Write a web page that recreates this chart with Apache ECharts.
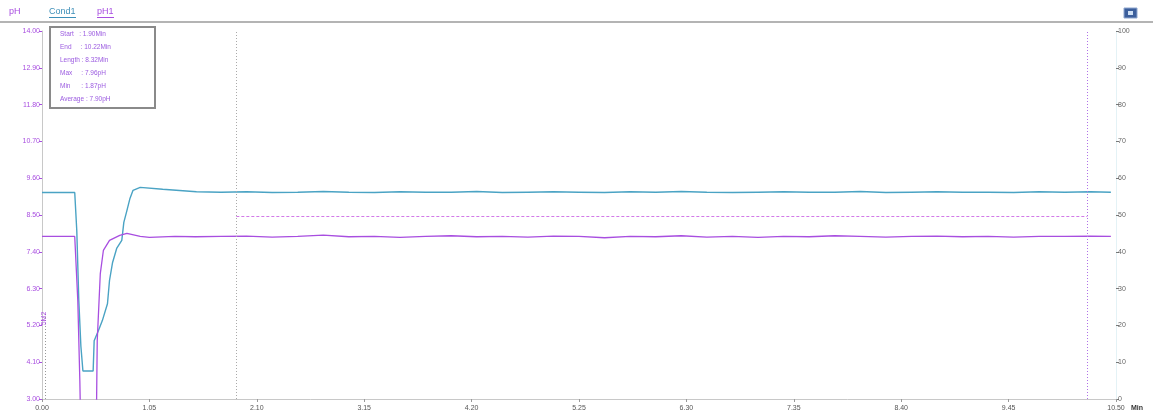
<!DOCTYPE html>
<html>
<head>
<meta charset="utf-8">
<script src="https://cdn.jsdelivr.net/npm/echarts@6/dist/echarts.min.js"></script>
<style>
  html, body { margin: 0; padding: 0; background: #ffffff; }
  #chart { width: 1153px; height: 415px; }
</style>
</head>
<body>
<div id="chart"></div>
<script>
// Time axis (minutes) and its tick labels
const timeTicks = [0, 1.05, 2.10, 3.15, 4.20, 5.25, 6.30, 7.35, 8.40, 9.45, 10.50];
// Left axis (pH) tick values
const phTicks = [3.00, 4.10, 5.20, 6.30, 7.40, 8.50, 9.60, 10.70, 11.80, 12.90, 14.00];
// Right axis (conductivity) tick values
const condTicks = [0, 10, 20, 30, 40, 50, 60, 70, 80, 90, 100];

// Cond1 trace
const cond1Time = [0, 0.32, 0.34, 0.36, 0.38, 0.40, 0.50, 0.51, 0.55, 0.59, 0.64, 0.66, 0.69, 0.73, 0.78, 0.80, 0.83, 0.86, 0.89, 0.96, 1.18, 1.51,
  1.75, 2.00, 2.25, 2.50, 2.75, 3.00, 3.25, 3.50, 3.75, 4.00, 4.25, 4.50, 4.75, 5.00, 5.25, 5.50, 5.75, 6.00, 6.25, 6.50, 6.75, 7.00, 7.25, 7.50, 7.75, 8.00, 8.25, 8.50, 8.75, 9.00, 9.25, 9.50, 9.75, 10.00, 10.25, 10.45];
const cond1Values = [56.1, 56.1, 45.8, 26.7, 14.4, 7.6, 7.6, 15.8, 18.5, 21.3, 25.9, 32.2, 37.1, 40.9, 43.1, 48.0, 51.2, 54.5, 56.7, 57.5, 57.0, 56.3,
  56.2, 56.3, 56.1, 56.2, 56.4, 56.2, 56.1, 56.3, 56.2, 56.2, 56.4, 56.1, 56.2, 56.3, 56.2, 56.1, 56.3, 56.2, 56.4, 56.2, 56.1, 56.2, 56.3, 56.2, 56.2, 56.4, 56.1, 56.2, 56.3, 56.2, 56.2, 56.1, 56.3, 56.2, 56.3, 56.2];

// pH1 trace
const ph1Time = [0, 0.32, 0.35, 0.37, 0.38, 0.53, 0.54, 0.57, 0.60, 0.66, 0.76, 0.83, 0.96, 1.05, 1.30, 1.50,
  1.75, 2.00, 2.25, 2.50, 2.75, 3.00, 3.25, 3.50, 3.75, 4.00, 4.25, 4.50, 4.75, 5.00, 5.25, 5.50, 5.75, 6.00, 6.25, 6.50, 6.75, 7.00, 7.25, 7.50, 7.75, 8.00, 8.25, 8.50, 8.75, 9.00, 9.25, 9.50, 9.75, 10.00, 10.25, 10.45];
const ph1Values = [7.86, 7.86, 5.94, 3.54, 1.87, 1.87, 4.74, 6.75, 7.44, 7.74, 7.89, 7.95, 7.86, 7.83, 7.86, 7.85,
  7.86, 7.87, 7.84, 7.86, 7.90, 7.85, 7.86, 7.83, 7.86, 7.88, 7.85, 7.86, 7.84, 7.87, 7.86, 7.82, 7.86, 7.85, 7.88, 7.84, 7.86, 7.83, 7.86, 7.85, 7.88, 7.86, 7.84, 7.86, 7.87, 7.85, 7.86, 7.84, 7.86, 7.86, 7.87, 7.86];

// Selected range and its statistics
const rangeStart = 1.90;
const rangeEnd = 10.22;
const rangeLevel = 8.46;
const eventTime = 0.03;
const eventTop = 5.55;
const statLines = ['Start   : 1.90Min', 'End     : 10.22Min', 'Length : 8.32Min', 'Max     : 7.96pH', 'Min      : 1.87pH', 'Average : 7.90pH'];

const PH_COLOR = '#a84ee0';
const COND_COLOR = '#4aa3c4';
const AXIS_GRAY = '#c8c8c8';
const FONT = 'Arial, "Liberation Sans", sans-serif';

const zip = (xs, ys) => xs.map((x, i) => [x, ys[i]]);

const chart = echarts.init(document.getElementById('chart'), null, { renderer: 'canvas' });

const option = {
  animation: false,
  backgroundColor: '#ffffff',
  grid: { left: 42, right: 37, top: 31, bottom: 16, containLabel: false },
  xAxis: {
    type: 'value', min: 0, max: 10.5, interval: 1.05,
    axisLine: { show: true, lineStyle: { color: AXIS_GRAY, width: 1 } },
    axisTick: { show: true, length: 3, lineStyle: { color: '#999' } },
    splitLine: { show: false },
    axisLabel: { color: '#555', fontSize: 7, fontFamily: FONT, margin: 6,
      formatter: v => v.toFixed(2) }
  },
  yAxis: [
    {
      type: 'value', min: 3, max: 14, position: 'left',
      axisLine: { show: true, lineStyle: { color: AXIS_GRAY, width: 1 } },
      axisTick: { show: true, length: 3, customValues: phTicks, lineStyle: { color: PH_COLOR } },
      splitLine: { show: false },
      axisLabel: { color: PH_COLOR, fontSize: 7, fontFamily: FONT, margin: 2,
        customValues: phTicks, formatter: v => v.toFixed(2) }
    },
    {
      type: 'value', min: 0, max: 100, interval: 10, position: 'right',
      axisLine: { show: true, lineStyle: { color: '#e4f2f6', width: 1 } },
      axisTick: { show: true, length: 3, lineStyle: { color: '#777' } },
      splitLine: { show: false },
      axisLabel: { color: '#666', fontSize: 7, fontFamily: FONT, margin: 2 }
    }
  ],
  series: [
    {
      name: 'Cond1', type: 'line', yAxisIndex: 1, symbol: 'none', clip: true,
      data: zip(cond1Time, cond1Values),
      lineStyle: { color: COND_COLOR, width: 1.4 },
      itemStyle: { color: COND_COLOR }
    },
    {
      name: 'pH1', type: 'line', yAxisIndex: 0, symbol: 'none', clip: true,
      data: zip(ph1Time, ph1Values),
      lineStyle: { color: PH_COLOR, width: 1.3 },
      itemStyle: { color: PH_COLOR },
      markLine: {
        silent: true, symbol: 'none', label: { show: false },
        data: [
          { xAxis: rangeStart, lineStyle: { color: '#aaaaaa', type: [1, 2], width: 1 } },
          { xAxis: rangeEnd, lineStyle: { color: '#b070e8', type: [1, 2], width: 1 } },
          [
            { coord: [rangeStart, rangeLevel], lineStyle: { color: '#d27ae8', type: [3, 2], width: 1 } },
            { coord: [rangeEnd, rangeLevel] }
          ],
          [
            { coord: [eventTime, 3], lineStyle: { color: '#999', type: [1, 2], width: 1 } },
            { coord: [eventTime, eventTop] }
          ]
        ]
      }
    }
  ]
};
chart.setOption(option);

// Header, statistics box and event tag
const ev = chart.convertToPixel({ xAxisIndex: 0, yAxisIndex: 0 }, [eventTime, eventTop]);
const graphics = [
  { type: 'rect', shape: { x: 0, y: 21, width: 1153, height: 2 }, style: { fill: '#b4b4b4' }, z: 10 },
  { type: 'text', x: 9, y: 7, style: { text: 'pH', fill: PH_COLOR, font: '9px ' + FONT }, z: 10 },
  { type: 'text', x: 49, y: 7, style: { text: 'Cond1', fill: '#3d8fb8', font: '9px ' + FONT }, z: 10 },
  { type: 'rect', shape: { x: 49, y: 17, width: 27, height: 1 }, style: { fill: '#3d8fb8' }, z: 10 },
  { type: 'text', x: 97, y: 7, style: { text: 'pH1', fill: PH_COLOR, font: '9px ' + FONT }, z: 10 },
  { type: 'rect', shape: { x: 97, y: 17, width: 17, height: 1 }, style: { fill: PH_COLOR }, z: 10 },
  { type: 'rect', shape: { x: 1124, y: 8, width: 13, height: 10 }, style: { fill: '#3c5f9c', stroke: '#8fa7cf', lineWidth: 1 }, z: 10 },
  { type: 'rect', shape: { x: 1128, y: 11, width: 5, height: 4 }, style: { fill: '#cfe0f5' }, z: 11 },
  { type: 'text', x: 1131, y: 405, style: { text: 'Min', fill: '#333', font: 'bold 7px ' + FONT }, z: 10 },
  { type: 'rect', shape: { x: 50, y: 27, width: 105, height: 81 },
    style: { fill: '#ffffff', stroke: '#8a8a8a', lineWidth: 2 }, z: 20 },
  { type: 'text', x: ev[0] + 2, y: ev[1] - 2, rotation: Math.PI / 2,
    style: { text: '5M2', fill: PH_COLOR, font: '7px ' + FONT, align: 'right', verticalAlign: 'bottom' }, z: 10 }
];
statLines.forEach((t, i) => {
  graphics.push({ type: 'text', x: 60, y: 31 + i * 13,
    style: { text: t, fill: '#9b5be0', font: '6.5px ' + FONT }, z: 21 });
});
chart.setOption({ graphic: graphics });
</script>
</body>
</html>
